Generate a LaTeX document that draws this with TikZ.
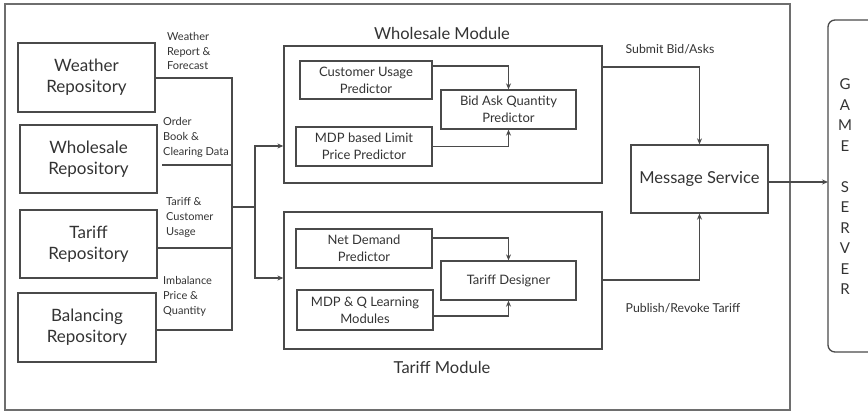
\documentclass[tikz,border=0pt]{standalone}
\usepackage{fontspec}
\setmainfont{Lato}
\usetikzlibrary{arrows.meta}
\definecolor{txt}{HTML}{333333}
\definecolor{ln}{HTML}{4A4A4A}
\definecolor{frame}{HTML}{6E6E6E}
\begin{document}
\begin{tikzpicture}[x=1pt,y=-1pt,
  box/.style={draw=ln,line width=1.3pt,inner sep=0pt,align=center,text=txt},
  repo/.style={box,font=\fontsize{17}{21}\selectfont},
  pred/.style={box,font=\fontsize{13}{17}\selectfont},
  lab/.style={inner sep=0pt,align=left,anchor=west,text=txt,font=\fontsize{11}{14.8}\selectfont},
  conn/.style={draw=ln,line width=1.1pt},
  arr/.style={conn,-{Stealth[length=6pt,width=5pt]}}]
\useasboundingbox (0,0) rectangle (868,412);
% outer frame
\draw[frame,line width=2pt] (5,4) rectangle (790,410);
% game server
\draw[ln,line width=1.3pt,rounded corners=7pt] (828,20) rectangle (880,352);
\node[inner sep=0pt,align=center,text=txt,font=\fontsize{15}{20.5}\selectfont] (gs) at (845,187)
  {G\\A\\M\\E\\[20.5pt]S\\E\\R\\V\\E\\R};
\coordinate (gsin) at (828,182);
% repositories
\node[repo,minimum width=137pt,minimum height=69pt] (wr) at (86.5,77.5) {Weather\\Repository};
\node[repo,minimum width=137pt,minimum height=68pt] (whr) at (88.5,159) {Wholesale\\Repository};
\node[repo,minimum width=137pt,minimum height=68pt] (tr) at (88.5,244) {Tariff\\Repository};
\node[repo,minimum width=138pt,minimum height=69pt] (br) at (87,327.5) {Balancing\\Repository};
% labels
\node[lab] (l1) at (167,51) {Weather\\Report \&\\Forecast};
\node[lab] (l2) at (163,137.5) {Order\\Book \&\\Clearing Data};
\node[lab] (l3) at (166,217.5) {Tariff \&\\Customer\\Usage};
\node[lab] (l4) at (163,296.5) {Imbalance\\Price \&\\Quantity};
% modules
\node[box,minimum width=318pt,minimum height=137pt] (wm) at (443,114.5) {};
\node[box,minimum width=318pt,minimum height=137pt] (tm) at (443,280.5) {};
\node[inner sep=0pt,text=txt,font=\fontsize{16.5}{19}\selectfont] (wmt) at (442,33) {Wholesale Module};
\node[inner sep=0pt,text=txt,font=\fontsize{16.5}{19}\selectfont] (tmt) at (442,367) {Tariff Module};
% inner boxes
\node[pred,minimum width=132pt,minimum height=38pt] (cup) at (366,80) {Customer Usage\\Predictor};
\node[pred,minimum width=135pt,minimum height=39pt] (baq) at (508.5,109.5) {Bid Ask Quantity\\Predictor};
\node[pred,minimum width=136pt,minimum height=39pt] (mdpl) at (364,146.5) {MDP based Limit\\Price Predictor};
\node[pred,minimum width=136pt,minimum height=39pt] (ndp) at (364,248.5) {Net Demand\\Predictor};
\node[pred,minimum width=135pt,minimum height=39pt] (td) at (508.5,280.5) {Tariff Designer};
\node[pred,minimum width=136pt,minimum height=40pt] (mdpq) at (365,310) {MDP \& Q Learning\\Modules};
% message service
\node[box,font=\fontsize{16.5}{19}\selectfont,minimum width=137pt,minimum height=68pt] (ms) at (699.5,179) {Message Service};
\node[inner sep=0pt,text=txt,font=\fontsize{12.3}{14}\selectfont] (sb) at (670,49) {Submit Bid/Asks};
\node[inner sep=0pt,text=txt,font=\fontsize{12.3}{14}\selectfont] (pr) at (683,308) {Publish/Revoke Tariff};
% bus coordinates
\coordinate (b1) at (232,78);
\coordinate (b2) at (232,165);
\coordinate (b3) at (232,248);
\coordinate (b4) at (232,330);
\coordinate (bj) at (232,207);
\coordinate (j1) at (255,207);
\coordinate (j2) at (255,146);
\coordinate (j3) at (255,278);
\coordinate (w2s) at (162,165);
% repository connectors
\draw[conn] (wr.east |- b1) -- (b1) -- (b4) -- (br.east |- b4);
\draw[conn] (w2s) -- (b2);
\draw[conn] (tr.east |- b3) -- (b3);
\draw[conn] (bj) -- (j1);
\draw[arr] (j1) -- (j2) -- (wm.west |- j2);
\draw[arr] (j1) -- (j3) -- (tm.west |- j3);
% inner arrows
\draw[arr] (cup.east |- 0,66) -| (baq.north);
\draw[arr] (mdpl.east) -| (baq.south);
\draw[arr] (ndp.east |- 0,238) -| (td.north);
\draw[arr] (mdpq.east |- 0,316) -| (td.south);
% module to message service
\draw[arr] (wm.east |- 0,67) -| (ms.north);
\draw[arr] (tm.east |- 0,280) -| (ms.south);
\draw[arr] (ms.east |- gsin) -- (gsin);
\end{tikzpicture}
\end{document}
